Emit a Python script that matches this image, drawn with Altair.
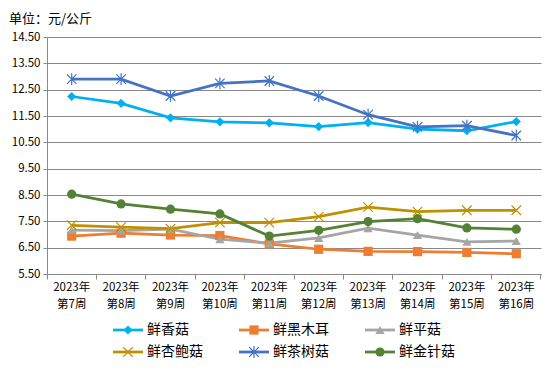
import altair as alt
import pandas as pd

weeks = ["2023年第7周", "2023年第8周", "2023年第9周", "2023年第10周", "2023年第11周",
         "2023年第12周", "2023年第13周", "2023年第14周", "2023年第15周", "2023年第16周"]
series_names = ["鲜香菇", "鲜黑木耳", "鲜平菇", "鲜杏鲍菇", "鲜茶树菇", "鲜金针菇"]
xianggu = [12.24, 11.98, 11.43, 11.28, 11.24, 11.10, 11.25, 11.00, 10.94, 11.29]
heimuer = [6.94, 7.05, 6.98, 6.96, 6.64, 6.44, 6.36, 6.35, 6.32, 6.27]
pinggu = [7.17, 7.15, 7.20, 6.82, 6.67, 6.87, 7.24, 6.98, 6.72, 6.75]
xingbao = [7.35, 7.28, 7.22, 7.45, 7.45, 7.68, 8.04, 7.87, 7.92, 7.92]
chashu = [12.90, 12.90, 12.26, 12.74, 12.83, 12.26, 11.55, 11.09, 11.13, 10.76]
jinzhen = [8.53, 8.16, 7.96, 7.78, 6.94, 7.16, 7.49, 7.60, 7.25, 7.20]
y_ticks = [5.5, 6.5, 7.5, 8.5, 9.5, 10.5, 11.5, 12.5, 13.5, 14.5]

colors = ["#00B0F0", "#ED7D31", "#A5A5A5", "#BF9000", "#4472C4", "#548235"]
X_PATH = "M-1,-1L1,1M-1,1L1,-1"
STAR_PATH = "M-1,-1L1,1M-1,1L1,-1M0,-1.25L0,1.25"
shapes = ["diamond", "square", "triangle-up", X_PATH, STAR_PATH, "circle"]
filled_series = ["鲜香菇", "鲜黑木耳", "鲜平菇", "鲜金针菇"]
stroked_series = ["鲜杏鲍菇", "鲜茶树菇"]
legend_col = [0, 1, 2, 0, 1, 2]
legend_row = [0, 0, 0, 1, 1, 1]

values = [xianggu, heimuer, pinggu, xingbao, chashu, jinzhen]
rows = []
for si, name in enumerate(series_names):
    for wi, w in enumerate(weeks):
        rows.append({"week": w, "series": name, "price": values[si][wi], "order": si})
df = pd.DataFrame(rows)
leg = pd.DataFrame({"series": series_names, "col": legend_col, "row": legend_row})

FONT = "Noto Sans CJK SC"
GRAY = "#898989"

color_scale = alt.Scale(domain=series_names, range=colors)
shape_scale = alt.Scale(domain=series_names, range=shapes)
xband = alt.Scale(type="band", paddingInner=0, paddingOuter=0, domain=weeks)
yscale = alt.Scale(domain=[5.5, 14.5], nice=False, zero=False)

label_axis = alt.Axis(title=None, ticks=False, labelPadding=7, labelFontSize=11.5, labelFont=FONT,
                      labelColor="#000000", labelAngle=0, domainColor=GRAY, domainWidth=1,
                      grid=False, labelLineHeight=17, orient="bottom",
                      labelExpr="[slice(datum.label,0,5), slice(datum.label,5)]")
tick_axis = alt.Axis(title=None, labels=False, domain=False, grid=False, ticks=True, tickSize=5,
                     tickColor=GRAY, bandPosition=1, tickExtra=True, orient="bottom")
y_axis = alt.Axis(title=None, values=y_ticks, format=".2f", labelFontSize=11.5, labelFont=FONT,
                  labelColor="#000000", tickSize=4, tickColor=GRAY, labelPadding=3, grid=True,
                  domainColor=GRAY, gridColor=GRAY, gridWidth=1, orient="left")

base = alt.Chart(df)

lines = base.mark_line(strokeWidth=2.75).encode(
    x=alt.X("week:O", sort=weeks, scale=xband, axis=label_axis),
    y=alt.Y("price:Q", scale=yscale, axis=y_axis),
    color=alt.Color("series:N", scale=color_scale, legend=None),
    detail="series:N",
    order="order:Q",
)
tick_layer = base.mark_point(opacity=0).encode(
    x=alt.X("week:O", sort=weeks, scale=xband, axis=tick_axis),
    y=alt.Y("price:Q", scale=yscale, axis=None),
)
pts_filled = base.transform_filter(
    alt.FieldOneOfPredicate(field="series", oneOf=filled_series)
).mark_point(filled=True, opacity=1, size=85).encode(
    x=alt.X("week:O", sort=weeks, scale=xband, axis=None),
    y=alt.Y("price:Q", scale=yscale, axis=None),
    color=alt.Color("series:N", scale=color_scale, legend=None),
    shape=alt.Shape("series:N", scale=shape_scale, legend=None),
)
pts_stroked = base.transform_filter(
    alt.FieldOneOfPredicate(field="series", oneOf=stroked_series)
).mark_point(filled=False, opacity=1, size=90, strokeWidth=1.2).encode(
    x=alt.X("week:O", sort=weeks, scale=xband, axis=None),
    y=alt.Y("price:Q", scale=yscale, axis=None),
    color=alt.Color("series:N", scale=color_scale, legend=None),
    shape=alt.Shape("series:N", scale=shape_scale, legend=None),
)

lx = alt.Scale(domain=[0, 3], range=[66, 444], nice=False, zero=False)
ly = alt.Scale(domain=[0, 1], range=[293, 315], nice=False, zero=False)
lbase = alt.Chart(leg).transform_calculate(
    ls="datum.col", le="datum.col + 0.238", lm="datum.col + 0.119", lt="datum.col + 0.27"
)
leg_rule = lbase.mark_rule(strokeWidth=2.75).encode(
    x=alt.X("ls:Q", scale=lx, axis=None), x2="le:Q",
    y=alt.Y("row:Q", scale=ly, axis=None),
    color=alt.Color("series:N", scale=color_scale, legend=None),
)
leg_pf = lbase.transform_filter(
    alt.FieldOneOfPredicate(field="series", oneOf=filled_series)
).mark_point(filled=True, opacity=1, size=85).encode(
    x=alt.X("lm:Q", scale=lx, axis=None),
    y=alt.Y("row:Q", scale=ly, axis=None),
    color=alt.Color("series:N", scale=color_scale, legend=None),
    shape=alt.Shape("series:N", scale=shape_scale, legend=None),
)
leg_ps = lbase.transform_filter(
    alt.FieldOneOfPredicate(field="series", oneOf=stroked_series)
).mark_point(filled=False, opacity=1, size=90, strokeWidth=1.2).encode(
    x=alt.X("lm:Q", scale=lx, axis=None),
    y=alt.Y("row:Q", scale=ly, axis=None),
    color=alt.Color("series:N", scale=color_scale, legend=None),
    shape=alt.Shape("series:N", scale=shape_scale, legend=None),
)
leg_text = lbase.mark_text(align="left", baseline="middle", fontSize=14, font=FONT,
                           color="#000000").encode(
    x=alt.X("lt:Q", scale=lx, axis=None),
    y=alt.Y("row:Q", scale=ly, axis=None),
    text="series:N",
)

chart = alt.layer(lines, tick_layer, pts_filled, pts_stroked,
                  leg_rule, leg_pf, leg_ps, leg_text).resolve_scale(
    x="independent", y="independent"
).properties(
    width=494, height=237,
    padding={"left": 39, "top": 29, "right": 1, "bottom": 88},
    autosize=alt.AutoSizeParams(type="none"),
    title=alt.Title("单位：元/公斤", anchor="start", frame="group", dx=-38, offset=5,
                    fontSize=13, font=FONT, fontWeight="normal", color="#000000"),
    background="#FFFFFF",
).configure_view(stroke=None)

chart.save("out.html", embed_options={"renderer": "svg", "actions": False})
